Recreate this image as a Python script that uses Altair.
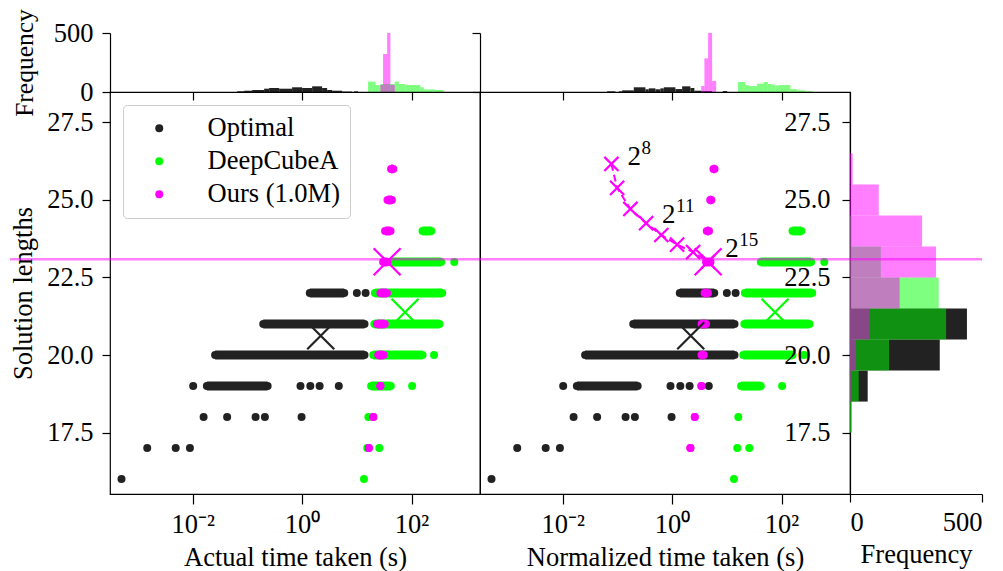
import altair as alt
import numpy as np
import pandas as pd

# ---------------- data (time values are log10 of seconds) ----------------
SERIES = ["Optimal", "DeepCubeA", "Ours (1.0M)"]
COLORS = ["#222222", "#00ff00", "#ff00ff"]

# Optimal (identical in both panels)
OPT_DOT_LEN = [16, 17, 17, 17, 18, 18, 18, 18, 18, 19, 19, 19, 19, 19, 22, 22]
OPT_DOT_LOG = [-3.30, -2.83, -2.31, -2.05, -1.80, -1.37, -0.85, -0.68, -0.01,
               -1.99, -0.03, 0.15, 0.32, 0.67, 1.00, 1.16]
OPT_BAND_LEN = [19, 20, 21, 22]
OPT_BAND_LO = [-1.74, -1.59, -0.71, 0.14]
OPT_BAND_HI = [-0.63, 1.14, 1.14, 0.77]

# DeepCubeA (identical in both panels)
DCA_DOT_LEN = [16, 17, 17, 18, 19, 20, 23]
DCA_DOT_LOG = [1.13, 1.19, 1.41, 1.21, 2.01, 2.41, 2.78]
DCA_BAND_LEN = [19, 20, 21, 22, 23, 24]
DCA_BAND_LO = [1.26, 1.30, 1.32, 1.33, 1.62, 2.20]
DCA_BAND_HI = [1.62, 2.20, 2.51, 2.56, 2.54, 2.36]

# Ours (1.0M)
OURS_LEN = [17, 18, 19, 20, 21, 22, 23, 24, 25, 26]
OURS_ACT_LO = [1.22, 1.30, 1.43, 1.39, 1.37, 1.43, 1.48, 1.515, 1.56, 1.625]
OURS_ACT_HI = [1.22, 1.30, 1.43, 1.49, 1.51, 1.55, 1.56, 1.615, 1.64, 1.665]
OURS_NRM_LO = [0.334, 0.414, 0.535, 0.537, 0.539, 0.594, 0.62, 0.634, 0.696, 0.755]
OURS_NRM_HI = [0.334, 0.414, 0.535, 0.577, 0.619, 0.654, 0.70, 0.674, 0.716, 0.775]

# mean markers (Optimal, DeepCubeA, Ours)
MEAN_LEN = [20.62, 21.38, 23.01]
MEAN_ACT_LOG = [0.34, 1.88, 1.553]
MEAN_NRM_LOG = [0.34, 1.88, 0.658]

# budget curve (normalized panel)
BUDGET_EXP = [8, 9, 10, 11, 12, 13, 14, 15]
BUDGET_LOG = [-1.109, -1.005, -0.762, -0.475, -0.197, 0.091, 0.384, 0.658]
BUDGET_LEN = [26.16, 25.39, 24.71, 24.25, 23.87, 23.56, 23.32, 23.01]
BUDGET_LABELLED = [8, 11, 15]

OURS_MEAN_LINE = [23.086]

# top histograms: bar edges (log10 s) and counts
TOPA_OPT_LO = [-1.187, -1.059, -0.913, -0.694, -0.603, -0.420, -0.183, 0.0, 0.183, 0.365, 0.457, 0.548, 0.731, 0.950]
TOPA_OPT_HI = [-1.059, -0.913, -0.694, -0.603, -0.420, -0.183, 0.0, 0.183, 0.365, 0.457, 0.548, 0.731, 0.913, 1.023]
TOPA_OPT_N = [6, 11, 17, 28, 34, 28, 40, 34, 48, 34, 17, 11, 4, 6]
TOPA_DCA_LO = [1.205, 1.339, 1.430, 1.693, 1.766, 1.887, 2.161, 2.223, 2.435]
TOPA_DCA_HI = [1.339, 1.430, 1.693, 1.766, 1.887, 2.161, 2.223, 2.435, 2.588]
TOPA_DCA_N = [88, 59, 68, 88, 68, 59, 40, 22, 17]
TOPA_OURS_LO = [1.430, 1.479, 1.553, 1.613]
TOPA_OURS_HI = [1.479, 1.553, 1.613, 1.693]
TOPA_OURS_N = [60, 322, 500, 60]

TOPN_OPT_LO = [-1.187, -0.974, -0.913, -0.700, -0.488, -0.426, -0.305, -0.214, -0.152, 0.060, 0.183, 0.334, 0.407, 0.530, 0.926]
TOPN_OPT_HI = [-1.036, -0.913, -0.700, -0.488, -0.426, -0.305, -0.214, -0.152, 0.060, 0.183, 0.334, 0.407, 0.530, 0.731, 1.005]
TOPN_OPT_N = [6, 6, 14, 40, 23, 31, 23, 31, 40, 25, 48, 34, 11, 8, 8]
TOPN_DCA_LO = [1.205, 1.339, 1.401, 1.553, 1.675, 1.748, 1.826, 1.887, 1.949, 2.082, 2.161, 2.283, 2.435]
TOPN_DCA_HI = [1.339, 1.401, 1.553, 1.675, 1.748, 1.826, 1.887, 1.949, 2.082, 2.161, 2.283, 2.435, 2.570]
TOPN_DCA_N = [85, 59, 51, 71, 85, 68, 62, 54, 59, 59, 25, 14, 6]
TOPN_OURS_LO = [0.530, 0.590, 0.658, 0.731]
TOPN_OURS_HI = [0.590, 0.658, 0.731, 0.804]
TOPN_OURS_N = [51, 285, 500, 93]

# right histogram of solution lengths
RH_OPT_LEN = [18, 19, 20, 21]
RH_OPT_N = [5, 67, 340, 443]
RH_DCA_LEN = [18, 19, 20, 21, 22, 23, 24]
RH_DCA_N = [4, 33, 148, 364, 336, 117, 5]
RH_OURS_LEN = [19, 20, 21, 22, 23, 24, 25, 26]
RH_OURS_N = [3, 23, 75, 188, 326, 273, 109, 10]

X_TICKS = [0.01, 1, 100]
X_TICK_LABELS = ["10\u207b\u00b2", "10\u2070", "10\u00b2"]
Y_TICKS = [17.5, 20.0, 22.5, 25.0, 27.5]
F_TICKS = [0, 500]

# ---------------- layout / style ----------------
FONT = "Liberation Serif"
W, H, HT, WR = 370, 402, 59, 132
X_DOMAIN = [10 ** -3.51, 10 ** 3.25]
Y_DOMAIN = [15.52, 28.48]
DOT = 64
XPATH = "M-1,-1L1,1M-1,1L1,-1"

label_expr = "''"
for v, s in zip(X_TICKS, X_TICK_LABELS):
    label_expr = f"datum.value == {v} ? '{s}' : ({label_expr})"


def tpow(a):
    return list(10 ** np.array(a, dtype=float))


def x_axis(title):
    return alt.Axis(values=X_TICKS, labelExpr=label_expr, title=title, tickSize=10,
                    labelPadding=7, titlePadding=7, domain=False, grid=False)


def xs(field, title):
    return alt.X(f"{field}:Q", scale=alt.Scale(type="log", domain=X_DOMAIN), axis=x_axis(title))


def ys(field, show):
    ax = alt.Axis(values=Y_TICKS, format=".1f", title="Solution lengths", tickSize=8,
                  labelPadding=9, titlePadding=9, domain=False, grid=False) if show else None
    return alt.Y(f"{field}:Q", scale=alt.Scale(domain=Y_DOMAIN), axis=ax)


def scatter(ours_lo, ours_hi, mean_log, title, left, curve):
    legend = alt.Legend(title=None, orient="top-left", offset=13, padding=10,
                        fillColor="white", strokeColor="#cccccc", cornerRadius=4,
                        labelFont=FONT, labelFontSize=26.5, symbolSize=DOT, symbolType="circle",
                        symbolOffset=13, labelOffset=35, rowPadding=6,
                        symbolStrokeWidth=0) if left else None
    cscale = alt.Scale(domain=SERIES, range=COLORS)

    groups = [
        (SERIES[0], OPT_DOT_LEN, OPT_DOT_LOG, OPT_BAND_LEN, OPT_BAND_LO, OPT_BAND_HI, COLORS[0]),
        (SERIES[1], DCA_DOT_LEN, DCA_DOT_LOG, DCA_BAND_LEN, DCA_BAND_LO, DCA_BAND_HI, COLORS[1]),
        (SERIES[2], [], [], OURS_LEN, ours_lo, ours_hi, COLORS[2]),
    ]
    layers = []
    for name, dlen, dlog, blen, blo, bhi, col in groups:
        band = pd.DataFrame({"len": blen, "lo": tpow(blo), "hi": tpow(bhi)})
        layers.append(alt.Chart(band).mark_rule(color=col, strokeWidth=9, strokeCap="butt").encode(
            x=xs("lo", title), x2="hi:Q", y=ys("len", left)))
        pts = pd.DataFrame({
            "len": list(dlen) + list(blen) + list(blen),
            "t": tpow(list(dlog) + list(blo) + list(bhi)),
            "series": name,
        })
        layers.append(alt.Chart(pts).mark_circle(size=DOT, opacity=1).encode(
            x=xs("t", title), y=ys("len", left),
            color=alt.Color("series:N", scale=cscale, legend=legend)))

    means = pd.DataFrame({"t": tpow(mean_log), "len": MEAN_LEN, "series": SERIES})
    layers.append(alt.Chart(means).mark_point(shape=XPATH, size=729, filled=False,
                                              strokeWidth=2.2, opacity=1).encode(
        x=xs("t", title), y=ys("len", left),
        stroke=alt.Color("series:N", scale=cscale, legend=None)))

    if curve:
        cdf = pd.DataFrame({"t": tpow(BUDGET_LOG), "len": BUDGET_LEN, "e": BUDGET_EXP})
        layers.append(alt.Chart(cdf).mark_line(color=COLORS[2], strokeWidth=2,
                                               strokeDash=[7, 4]).encode(
            x=xs("t", title), y=ys("len", left)))
        layers.append(alt.Chart(cdf).mark_point(shape=XPATH, size=200, filled=False,
                                                strokeWidth=2.2, color=COLORS[2], opacity=1).encode(
            x=xs("t", title), y=ys("len", left)))
        offs = {8: (16, 1), 11: (16, 0), 15: (17, -5)}
        for e in BUDGET_LABELLED:
            sub = cdf[cdf["e"] == e].assign(base="2", sup=str(e))
            dx, dy = offs[e]
            layers.append(alt.Chart(sub).mark_text(font=FONT, fontSize=27, align="left",
                                                   baseline="alphabetic", dx=dx, dy=dy,
                                                   color="black").encode(
                x=xs("t", title), y=ys("len", left), text="base:N"))
            layers.append(alt.Chart(sub).mark_text(font=FONT, fontSize=19, align="left",
                                                   baseline="alphabetic", dx=dx + 14, dy=dy - 11,
                                                   color="black").encode(
                x=xs("t", title), y=ys("len", left), text="sup:N"))

    hl = pd.DataFrame({"len": OURS_MEAN_LINE})
    layers.append(alt.Chart(hl).mark_rule(color=COLORS[2], opacity=0.5, strokeWidth=2.5).encode(
        y=ys("len", left), x=alt.value(-100 if left else 0), x2=alt.value(W)))

    return alt.layer(*layers).properties(
        width=W, height=H, view=alt.ViewBackground(stroke="black", strokeWidth=1.2))


def top_hist(opt, dca, ours, left):
    layers = []
    for (lo, hi, n), col, op in zip([opt, dca, ours], COLORS, [1.0, 0.5, 0.5]):
        df = pd.DataFrame({"lo": tpow(lo), "hi": tpow(hi), "n": n})
        layers.append(alt.Chart(df).mark_rect(color=col, opacity=op, clip=True).encode(
            x=alt.X("lo:Q", scale=alt.Scale(type="log", domain=X_DOMAIN),
                    axis=alt.Axis(values=X_TICKS, labels=False, title=None, tickSize=8,
                                  domain=True, grid=False)),
            x2="hi:Q",
            y=alt.Y("n:Q", scale=alt.Scale(domain=[0, 500]),
                    axis=alt.Axis(values=F_TICKS, labels=left, title="Frequency" if left else None,
                                  titleFontSize=25.5, tickSize=8, labelPadding=9, titlePadding=16,
                                  domain=True, grid=False)),
            y2=alt.datum(0)))
    return alt.layer(*layers).properties(width=W, height=HT)


def right_hist():
    layers = []
    for (ln, n), col, op in zip([(RH_OPT_LEN, RH_OPT_N), (RH_DCA_LEN, RH_DCA_N), (RH_OURS_LEN, RH_OURS_N)],
                                COLORS, [1.0, 0.5, 0.5]):
        df = pd.DataFrame({"lo": np.array(ln) - 0.5, "hi": np.array(ln) + 0.5, "n": n})
        layers.append(alt.Chart(df).mark_rect(color=col, opacity=op).encode(
            x=alt.X("n:Q", scale=alt.Scale(domain=[0, 500]),
                    axis=alt.Axis(values=F_TICKS, title="Frequency", tickSize=8, labelPadding=7,
                                  titlePadding=6, domain=True, grid=False)),
            x2=alt.datum(0),
            y=alt.Y("lo:Q", scale=alt.Scale(domain=Y_DOMAIN),
                    axis=alt.Axis(values=Y_TICKS, format=".1f", title=None, tickSize=8,
                                  labelPadding=12, domain=True, grid=False)),
            y2="hi:Q"))
    hl = pd.DataFrame({"len": OURS_MEAN_LINE})
    layers.append(alt.Chart(hl).mark_rule(color=COLORS[2], opacity=0.5, strokeWidth=2.5).encode(
        y=alt.Y("len:Q", scale=alt.Scale(domain=Y_DOMAIN)), x=alt.value(0), x2=alt.value(WR)))
    return alt.layer(*layers).properties(width=WR, height=H)


topA = top_hist((TOPA_OPT_LO, TOPA_OPT_HI, TOPA_OPT_N), (TOPA_DCA_LO, TOPA_DCA_HI, TOPA_DCA_N),
                (TOPA_OURS_LO, TOPA_OURS_HI, TOPA_OURS_N), True)
topN = top_hist((TOPN_OPT_LO, TOPN_OPT_HI, TOPN_OPT_N), (TOPN_DCA_LO, TOPN_DCA_HI, TOPN_DCA_N),
                (TOPN_OURS_LO, TOPN_OURS_HI, TOPN_OURS_N), False)
blank = alt.Chart(pd.DataFrame({"a": [0]})).mark_point(opacity=0).properties(width=WR, height=HT)
scA = scatter(OURS_ACT_LO, OURS_ACT_HI, MEAN_ACT_LOG, "Actual time taken (s)", True, False)
scN = scatter(OURS_NRM_LO, OURS_NRM_HI, MEAN_NRM_LOG, "Normalized time taken (s)", False, True)
rh = right_hist()

chart = alt.concat(topA, topN, blank, scA, scN, rh, columns=3, spacing=0,
                   bounds="flush", align="each").resolve_scale(
    x="independent", y="independent", color="independent", stroke="independent"
).properties(
    padding={"left": 0, "top": 0, "right": 5, "bottom": 0}
).configure(
    font=FONT
).configure_view(
    stroke="transparent"
).configure_axis(
    labelFont=FONT, labelFontSize=26.5, titleFont=FONT, titleFontSize=26.5,
    titleFontWeight="normal", labelColor="black", titleColor="black",
    domainColor="black", tickColor="black", domainWidth=1.2, tickWidth=1.2,
)

chart.save("out.html", embed_options={"renderer": "svg", "actions": False})
